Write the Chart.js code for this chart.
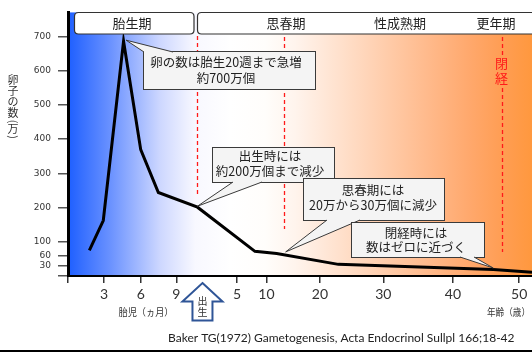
<!DOCTYPE html>
<html><head><meta charset="utf-8">
<script src="https://cdn.jsdelivr.net/npm/chart.js@4/dist/chart.umd.min.js"></script>
<style>html,body{margin:0;padding:0;background:#fff;overflow:hidden}#wrap{width:532px;height:352px;position:relative}canvas{display:block}</style>
</head><body><div id="wrap"><canvas id="c" width="532" height="352"></canvas></div>
<script>
// ---- data (x in timeline position units) ----
const curveX = [1.78, 2.94, 4.63, 6.06, 7.53, 10.79, 15.58, 17.39, 22.53, 35.44, 38.67];
const curveY = [75, 162, 686, 369, 244, 201, 72, 66, 34, 19, 11];
const xTickPos = [0, 3, 6.06, 9.03, 14.08, 16.54, 21.0, 26.28, 32.08, 37.6];
const xTickLabels = ['', '3', '6', '9', '5', '10', '20', '30', '40', '50'];
const yTickValues = [0, 30, 60, 100, 200, 300, 400, 500, 600, 700];
const yTickLabels = ['', '30', '60', '100', '200', '300', '400', '500', '600', '700'];
const markerX = [10.79, 18.04, 36.13];
const phaseLabels = ['胎生期', '思春期', '性成熟期', '更年期'];
const yTitleChars = ['卵', '子', 'の', '数', '(', '万', ')'];
const xTitleFetal = '胎児（ヵ月）';
const xTitleAge = '年齢（歳）';
const menopauseLabel = ['閉', '経'];
const birthLabel = ['出', '生'];
const calloutTexts = [
  ['卵の数は胎生20週まで急増', '約700万個'],
  ['出生時には', '約200万個まで減少'],
  ['思春期には', '20万から30万個に減少'],
  ['閉経時には', '数はゼロに近づく']
];
const calloutTipIndex = [2, 5, 7, 9];
const citation = 'Baker TG(1972) Gametogenesis, Acta Endocrinol Sullpl 166;18-42';

const JP = "'Noto Sans CJK JP', 'Noto Sans', sans-serif";

const bgPlugin = {
  id: 'bg',
  beforeDraw(chart) {
    const {ctx, chartArea: a} = chart;
    const g = ctx.createLinearGradient(a.left, 0, a.right, 0);
    const stops = [
      [0, 'rgb(30,95,255)'], [0.09, 'rgb(105,145,255)'], [0.198, 'rgb(205,215,255)'],
      [0.274, 'rgb(248,248,255)'], [0.35, 'rgb(255,255,255)'], [0.425, 'rgb(255,253,251)'],
      [0.489, 'rgb(255,244,237)'], [0.629, 'rgb(255,216,190)'], [0.774, 'rgb(255,186,140)'],
      [0.866, 'rgb(255,168,108)'], [0.931, 'rgb(255,158,85)'], [1, 'rgb(255,152,62)']
    ];
    stops.forEach(s => g.addColorStop(s[0], s[1]));
    ctx.save();
    ctx.fillStyle = g;
    ctx.fillRect(a.left, a.top, a.right - a.left, a.bottom - a.top);
    ctx.restore();
  },
  beforeDatasetsDraw(chart) {
    const {ctx} = chart;
    const xs = chart.scales.x;
    ctx.save();
    ctx.strokeStyle = '#ff1a1a';
    ctx.lineWidth = 1.3;
    ctx.setLineDash([4, 3]);
    const segs = [[[36, 195]], [[37, 229]], [[37, 55], [88, 252]]];
    markerX.forEach((mx, i) => {
      const px = Math.round(xs.getPixelForValue(mx)) + 0.5;
      segs[i].forEach(s => {
        ctx.beginPath(); ctx.moveTo(px, s[0]); ctx.lineTo(px, s[1]); ctx.stroke();
      });
    });
    ctx.setLineDash([]);
    const px3 = xs.getPixelForValue(markerX[2]);
    ctx.fillStyle = '#ff1a1a';
    ctx.font = '13px ' + JP;
    ctx.textAlign = 'center'; ctx.textBaseline = 'middle';
    ctx.fillText(menopauseLabel[0], px3, 63);
    ctx.fillText(menopauseLabel[1], px3, 78);
    ctx.restore();
  }
};

function roundRect(ctx, x, y, w, h, r) {
  ctx.beginPath();
  ctx.moveTo(x + r, y);
  ctx.lineTo(x + w - r, y); ctx.quadraticCurveTo(x + w, y, x + w, y + r);
  ctx.lineTo(x + w, y + h - r); ctx.quadraticCurveTo(x + w, y + h, x + w - r, y + h);
  ctx.lineTo(x + r, y + h); ctx.quadraticCurveTo(x, y + h, x, y + h - r);
  ctx.lineTo(x, y + r); ctx.quadraticCurveTo(x, y, x + r, y);
  ctx.closePath();
}

function callout(ctx, box, base, tip, lines, cx, ys) {
  const [x0, y0, x1, y1] = box;
  ctx.save();
  ctx.fillStyle = '#f4f4f4';
  ctx.strokeStyle = '#3a3a3a';
  ctx.lineWidth = 1;
  ctx.fillRect(x0, y0, x1 - x0, y1 - y0);
  ctx.strokeRect(x0 + 0.5, y0 + 0.5, x1 - x0, y1 - y0);
  ctx.beginPath();
  ctx.moveTo(tip[0], tip[1]); ctx.lineTo(base[0][0], base[0][1]); ctx.lineTo(base[1][0], base[1][1]); ctx.closePath();
  ctx.fill();
  ctx.beginPath();
  ctx.moveTo(base[0][0], base[0][1]); ctx.lineTo(tip[0], tip[1]); ctx.lineTo(base[1][0], base[1][1]);
  ctx.stroke();
  ctx.fillStyle = '#222';
  ctx.font = '12.5px ' + JP;
  ctx.textAlign = 'center'; ctx.textBaseline = 'middle';
  lines.forEach((t, i) => ctx.fillText(t, cx, ys[i]));
  ctx.restore();
}

const overlayPlugin = {
  id: 'overlay',
  afterDatasetsDraw(chart) {
    const {ctx} = chart;
    const xs = chart.scales.x, ys = chart.scales.y;
    const tipAt = (k, dx, dy) => [xs.getPixelForValue(curveX[calloutTipIndex[k]]) + dx, ys.getPixelForValue(curveY[calloutTipIndex[k]]) + dy];
    callout(ctx, [143, 51, 315, 89], [[144, 52], [173, 52]], tipAt(0, 2.5, -1), calloutTexts[0], 226, [62, 78]);
    callout(ctx, [212, 147, 334, 182], [[233, 182], [262, 182]], tipAt(1, 0, -1), calloutTexts[1], 270, [156, 171]);
    callout(ctx, [303, 178, 444, 220], [[327, 220], [360, 220]], tipAt(2, 9, -1.5), calloutTexts[2], 373, [190, 205]);
    callout(ctx, [351, 222, 484, 257], [[460, 257], [474, 257]], tipAt(3, 0, -1.5), calloutTexts[3], 416, [233, 247]);
  },
  afterDraw(chart) {
    const {ctx} = chart;
    ctx.save();
    ctx.fillStyle = '#fff'; ctx.strokeStyle = '#333'; ctx.lineWidth = 1.2;
    roundRect(ctx, 74.5, 12.5, 119.5, 21.5, 4); ctx.fill(); ctx.stroke();
    roundRect(ctx, 197.5, 12.5, 350, 21.5, 4); ctx.fill(); ctx.stroke();
    ctx.fillStyle = '#222';
    ctx.font = '13px ' + JP;
    ctx.textAlign = 'center'; ctx.textBaseline = 'middle';
    ctx.fillText(phaseLabels[0], 132, 23.5);
    ctx.fillText(phaseLabels[1], 286, 23.5);
    ctx.fillText(phaseLabels[2], 400, 23.5);
    ctx.fillText(phaseLabels[3], 496, 23.5);
    ctx.fillStyle = '#333';
    ctx.font = '11px ' + JP;
    const yPos = [80, 91, 102, 113, 121.5, 129, 137];
    yTitleChars.forEach((ch, i) => {
      if (ch === '(' || ch === ')') {
        ctx.save(); ctx.translate(13, yPos[i]); ctx.rotate(Math.PI / 2);
        ctx.fillText(ch, 0, 0); ctx.restore();
      } else ctx.fillText(ch, 13, yPos[i]);
    });
    ctx.font = '10px ' + JP;
    ctx.fillText(xTitleFetal, 146, 312, 55);
    ctx.textAlign = 'left';
    ctx.fillText(xTitleAge, 487, 312, 43);
    const bx = chart.scales.x.getPixelForValue(markerX[0]) + 5;
    ctx.beginPath();
    ctx.moveTo(bx, 283);
    ctx.lineTo(bx + 20, 301.5); ctx.lineTo(bx + 10, 301.5); ctx.lineTo(bx + 10, 320.5);
    ctx.lineTo(bx - 10, 320.5); ctx.lineTo(bx - 10, 301.5); ctx.lineTo(bx - 20, 301.5);
    ctx.closePath();
    ctx.fillStyle = '#fff'; ctx.fill();
    ctx.strokeStyle = '#2f5597'; ctx.lineWidth = 2; ctx.lineJoin = 'miter'; ctx.stroke();
    ctx.fillStyle = '#333'; ctx.font = '10px ' + JP; ctx.textAlign = 'center';
    ctx.fillText(birthLabel[0], bx, 301.5);
    ctx.fillText(birthLabel[1], bx, 312);
    ctx.fillStyle = '#222';
    ctx.font = "12px Lato, 'Open Sans', sans-serif";
    ctx.textAlign = 'left';
    ctx.fillText(citation, 168, 338.5, 347);
    ctx.fillStyle = '#000';
    ctx.fillRect(0, 350, 532, 2);
    ctx.restore();
  }
};

new Chart(document.getElementById('c').getContext('2d'), {
  type: 'line',
  data: {
    datasets: [{
      data: curveX.map((x, i) => ({x: x, y: curveY[i]})),
      borderColor: '#000', borderWidth: 3, pointRadius: 0, tension: 0, fill: false,
      borderJoinStyle: 'miter'
    }]
  },
  options: {
    responsive: false, animation: false, devicePixelRatio: 1,
    layout: {padding: {top: 10, right: 0, left: 0, bottom: 0}},
    plugins: {legend: {display: false}, tooltip: {enabled: false}},
    scales: {
      x: {
        type: 'linear', min: 0, max: 38.67,
        afterFit(s) { s.height = 76; },
        afterBuildTicks(s) { s.ticks = xTickPos.map(v => ({value: v})); },
        ticks: {autoSkip: false, maxRotation: 0, minRotation: 0, padding: 3, color: '#333',
          font: {family: "Lato, 'Open Sans', sans-serif", size: 14},
          callback: (v, i) => xTickLabels[i]},
        grid: {display: true, drawOnChartArea: false, drawTicks: true, tickLength: 7, color: '#333', lineWidth: 1.5},
        border: {display: true, color: '#000', width: 2}
      },
      y: {
        type: 'linear', min: 0, max: 770,
        afterFit(s) { s.width = 68; },
        afterBuildTicks(s) { s.ticks = yTickValues.map(v => ({value: v})); },
        ticks: {autoSkip: false, padding: 7, color: '#333',
          font: {family: "'DejaVu Sans', sans-serif", size: 9},
          callback: (v, i) => yTickLabels[i]},
        grid: {display: true, drawOnChartArea: false, drawTicks: true, tickLength: 10, color: '#555', lineWidth: 1.5},
        border: {display: true, color: '#000', width: 3}
      }
    }
  },
  plugins: [bgPlugin, overlayPlugin]
});
</script>
</body></html>
